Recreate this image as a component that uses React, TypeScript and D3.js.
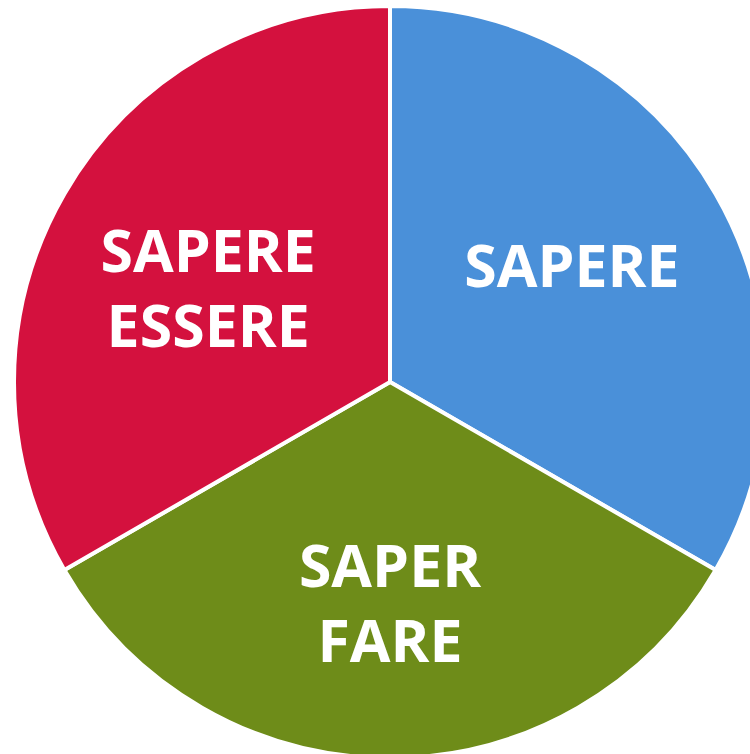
import React from "react";
import * as d3 from "d3";

const categories: string[][] = [["SAPERE"], ["SAPER", "FARE"], ["SAPERE", "ESSERE"]];
const values: number[] = [1, 1, 1];
const colors: string[] = ["#4a90d9", "#6e8c19", "#d4113e"];

const W = 750;
const H = 754;
const cx = 390;
const cy = 382;
const R = 376;
const labelR = 210;
const fontSize = 59;
const lineH = 75;

export default function App() {
  const pie = d3.pie<number>().sort(null).value((d) => d);
  const arcs = pie(values);
  const arc = d3.arc<d3.PieArcDatum<number>>().innerRadius(0).outerRadius(R);
  const labelArc = d3.arc<d3.PieArcDatum<number>>().innerRadius(labelR).outerRadius(labelR);
  return (
    <svg width={W} height={H} style={{ position: "absolute", left: 0, top: 0 }}>
      <g transform={`translate(${cx},${cy})`}>
        {arcs.map((a, i) => (
          <path key={i} d={arc(a) || ""} fill={colors[i]} stroke="#ffffff" strokeWidth={4} strokeLinejoin="round" />
        ))}
        {arcs.map((a, i) => {
          const [x, y] = labelArc.centroid(a);
          const lines = categories[i];
          const first = y + (lines.length === 1 ? 10 : -5);
          return (
            <text key={"t" + i} x={x} y={first} textAnchor="middle" fill="#ffffff"
              style={{ fontFamily: "'Open Sans', sans-serif", fontWeight: 700, fontSize }}>
              {lines.map((l, j) => (
                <tspan key={j} x={x} y={first + j * lineH}>{l}</tspan>
              ))}
            </text>
          );
        })}
      </g>
    </svg>
  );
}
